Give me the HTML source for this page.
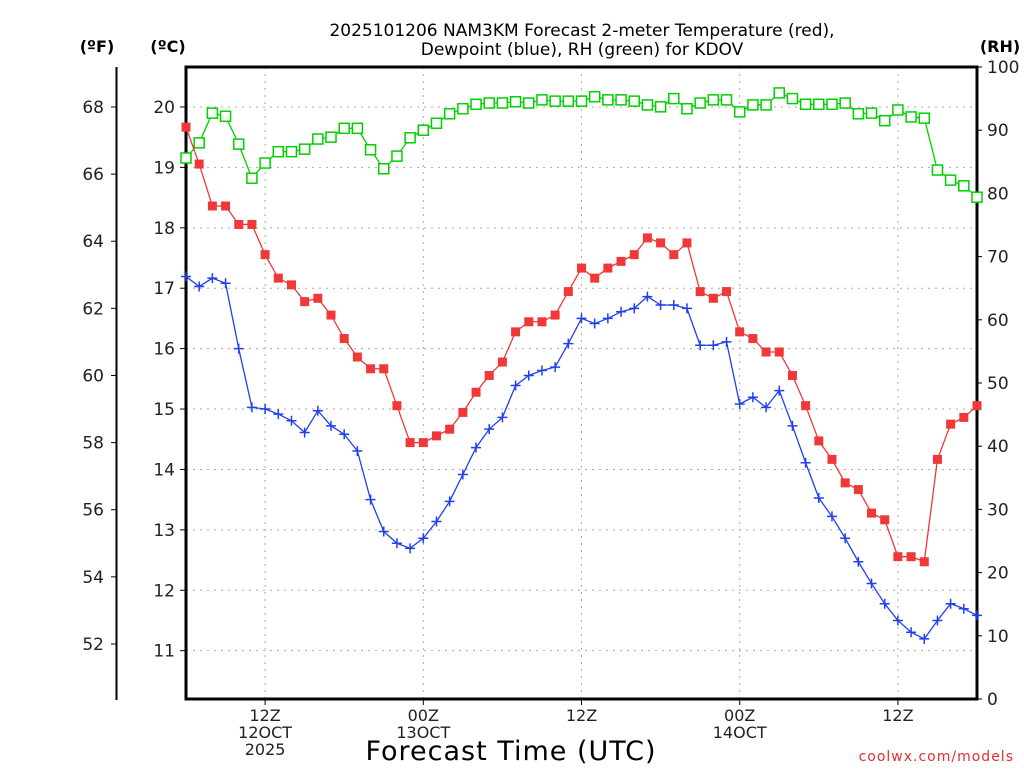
<!DOCTYPE html>
<html><head><meta charset="utf-8"><style>
body{margin:0;background:#fff;width:1024px;height:768px;overflow:hidden}
svg text{font-family:"DejaVu Sans","Liberation Sans",sans-serif}
</style></head><body>
<svg id="chart" width="1024" height="768" xmlns="http://www.w3.org/2000/svg">
<g id="grid"></g>
<g id="axes"></g>
<g id="series"></g>
<text x="582" y="36" font-size="17" text-anchor="middle" fill="#000">2025101206 NAM3KM Forecast 2-meter Temperature (red),</text>
<text x="582" y="55" font-size="17" text-anchor="middle" fill="#000">Dewpoint (blue), RH (green) for KDOV</text>
<text x="97" y="52" font-size="16" font-weight="bold" text-anchor="middle">(ºF)</text>
<text x="168" y="52" font-size="16" font-weight="bold" text-anchor="middle">(ºC)</text>
<text x="1000" y="52" font-size="16" font-weight="bold" text-anchor="middle">(RH)</text>
<text x="511" y="760" font-size="27" text-anchor="middle" letter-spacing="1">Forecast Time (UTC)</text>
<text x="1014" y="761" font-size="14" fill="#e03030" text-anchor="end" letter-spacing="1">coolwx.com/models</text>
</svg>
<script>
const tempF=[67.4,66.3,65.05,65.05,64.5,64.5,63.6,62.9,62.7,62.2,62.3,61.8,61.1,60.55,60.2,60.2,59.1,58.0,58.0,58.2,58.4,58.9,59.5,60.0,60.4,61.3,61.6,61.6,61.8,62.5,63.2,62.9,63.2,63.4,63.6,64.1,63.95,63.6,63.95,62.5,62.3,62.5,61.3,61.1,60.7,60.7,60.0,59.1,58.05,57.5,56.8,56.6,55.9,55.7,54.6,54.6,54.45,57.5,58.55,58.75,59.1];
const dewF=[62.95,62.65,62.9,62.75,60.8,59.05,59.0,58.85,58.65,58.3,58.95,58.5,58.25,57.75,56.3,55.35,55.0,54.85,55.15,55.65,56.25,57.05,57.85,58.4,58.75,59.7,60.0,60.15,60.25,60.95,61.7,61.55,61.7,61.9,62.0,62.35,62.1,62.1,62.0,60.9,60.9,61.0,59.15,59.35,59.05,59.55,58.5,57.4,56.35,55.8,55.15,54.45,53.8,53.2,52.7,52.35,52.15,52.7,53.2,53.05,52.85];
const rh=[85.6,88.0,92.7,92.2,87.8,82.4,84.8,86.6,86.6,87.0,88.6,88.9,90.3,90.3,86.9,83.9,85.9,88.8,90.0,91.1,92.6,93.4,94.1,94.3,94.3,94.5,94.3,94.8,94.6,94.6,94.6,95.3,94.8,94.8,94.6,94.0,93.7,95.0,93.4,94.3,94.8,94.8,92.9,94.0,94.0,95.9,95.0,94.1,94.1,94.1,94.3,92.6,92.7,91.5,93.2,92.1,91.9,83.7,82.1,81.2,79.4];
const fTicks=[52,54,56,58,60,62,64,66,68];
const cTicks=[11,12,13,14,15,16,17,18,19,20];
const rhTicks=[0,10,20,30,40,50,60,70,80,90,100];
const xTickHours=[6,18,30,42,54];
const xTickLabels=[["12Z","12OCT","2025"],["00Z","13OCT"],["12Z"],["00Z","14OCT"],["12Z"]];

const L=186,R=977,T=67,B=699,NS="http://www.w3.org/2000/svg";
const xs=i=>L+(R-L)*i/60;
const yF=f=>107+(68-f)*33.56;
const yC=c=>yF(c*1.8+32);
const yRH=v=>B-(B-T)*v/100;
function mk(p,tag,a){const e=document.createElementNS(NS,tag);for(const k in a)e.setAttribute(k,a[k]);p.appendChild(e);return e;}
const grid=document.getElementById('grid'),axes=document.getElementById('axes'),ser=document.getElementById('series');
cTicks.forEach(c=>{const y=yC(c);
 const g=mk(grid,'line',{x1:L,x2:R,y1:y,y2:y,stroke:'#aaa','stroke-dasharray':'2,5'});
 
 mk(axes,'line',{x1:180,x2:L,y1:y,y2:y,stroke:'#000'});
 const t=mk(axes,'text',{x:175,y:y+6,'font-size':17,'text-anchor':'end',fill:'#222'});t.textContent=c;
 });
xTickHours.forEach((h,k)=>{const x=xs(h);
 const g=mk(grid,'line',{x1:x,x2:x,y1:T,y2:B,stroke:'#aaa','stroke-dasharray':'2,5'});
 
 mk(axes,'line',{x1:x,x2:x,y1:B,y2:B+6,stroke:'#000'});
 xTickLabels[k].forEach((s,j)=>{const t=mk(axes,'text',{x:x,y:B+22+j*17,'font-size':16,'text-anchor':'middle',fill:'#222'});t.textContent=s;
 });});
fTicks.forEach(f=>{const y=yF(f);
 mk(axes,'line',{x1:111,x2:117,y1:y,y2:y,stroke:'#000'});
 const t=mk(axes,'text',{x:104,y:y+6,'font-size':17,'text-anchor':'end',fill:'#222'});t.textContent=f;
 });
rhTicks.forEach(v=>{const y=yRH(v);
 mk(axes,'line',{x1:R,x2:R+5,y1:y,y2:y,stroke:'#000'});
 const t=mk(axes,'text',{x:987,y:y+6,'font-size':17,fill:'#222'});t.textContent=v;
 });
mk(axes,'line',{x1:116.5,x2:116.5,y1:67,y2:700,stroke:'#000','stroke-width':2});
const fr=mk(axes,'rect',{x:L,y:T,width:R-L,height:B-T,fill:'none',stroke:'#000','stroke-width':3});


function line(vals,yf,col,name){const g=mk(ser,'g',{});
 
 mk(g,'polyline',{points:vals.map((v,i)=>xs(i)+','+yf(v)).join(' '),fill:'none',stroke:col,'stroke-width':1.3});return g;}
const gR=line(rh,yRH,'#00d000','rh-series');
rh.forEach((v,i)=>{const m=mk(gR,'rect',{x:xs(i)-5,y:yRH(v)-5,width:10,height:10,fill:'#fff',stroke:'#00d000','stroke-width':1.5});
 });
const gT=line(tempF,yF,'#f03838','temperature-series');
tempF.forEach((v,i)=>{const m=mk(gT,'rect',{x:xs(i)-4.5,y:yF(v)-4.5,width:9,height:9,fill:'#f03838'});
 });
const gD=line(dewF,yF,'#2040f0','dewpoint-series');
dewF.forEach((v,i)=>{const x=xs(i),y=yF(v);
 const m=mk(gD,'path',{d:`M${x-5},${y}H${x+5}M${x},${y-5}V${y+5}`,stroke:'#2040f0','stroke-width':1.5});
 });
</script>
</body></html>
